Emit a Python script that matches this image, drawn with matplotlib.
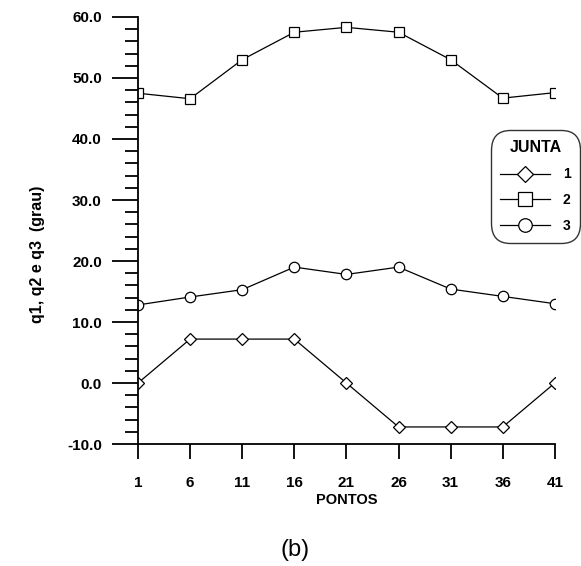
import matplotlib
matplotlib.use("Agg")
import matplotlib.pyplot as plt
from matplotlib.ticker import MultipleLocator, FixedLocator

plt.rcParams['font.family'] = ['Liberation Sans', 'DejaVu Sans']

pontos = [1, 6, 11, 16, 21, 26, 31, 36, 41]
q1 = [0.0, 7.2, 7.2, 7.2, 0.0, -7.2, -7.2, -7.2, 0.0]
q2 = [47.5, 46.6, 53.0, 57.5, 58.3, 57.5, 53.0, 46.7, 47.6]
q3 = [12.8, 14.1, 15.3, 19.0, 17.8, 19.0, 15.4, 14.2, 13.0]
xticks = [1, 6, 11, 16, 21, 26, 31, 36, 41]
yticks = [-10, 0, 10, 20, 30, 40, 50, 60]

fig = plt.figure(figsize=(5.81, 5.66), dpi=100)
ax = fig.add_axes([0.2375, 0.2155, 0.7175, 0.7545])

style = dict(color='black', lw=0.9, markerfacecolor='white',
             markeredgecolor='black', markeredgewidth=0.9)
h1, = ax.plot(pontos, q1, marker='D', ms=6.5, label='1', **style)
h2, = ax.plot(pontos, q2, marker='s', ms=7.5, label='2', **style)
h3, = ax.plot(pontos, q3, marker='o', ms=7.5, label='3', **style)

ax.set_xlim(1, 41)
ax.set_ylim(-10, 60)
ax.xaxis.set_major_locator(FixedLocator(xticks))
ax.yaxis.set_major_locator(FixedLocator(yticks))
ax.yaxis.set_minor_locator(MultipleLocator(2))
ax.set_yticklabels([f"{v:.1f}" for v in yticks])

for s in ['top', 'right']:
    ax.spines[s].set_visible(False)
for s in ['left', 'bottom']:
    ax.spines[s].set_linewidth(1.3)

ax.tick_params(axis='y', which='major', direction='out', length=19, width=1.3,
               labelsize=11, pad=7)
ax.tick_params(axis='y', which='minor', direction='out', length=9.5, width=1.3)
ax.tick_params(axis='x', which='major', direction='out', length=11, width=1.3,
               labelsize=11, pad=12)
for lab in ax.get_xticklabels() + ax.get_yticklabels():
    lab.set_fontweight('bold')

for sp in ax.spines.values():
    sp.set_clip_on(False)

ax.set_xlabel('PONTOS', fontsize=10.5, fontweight='bold', labelpad=2)
fig.text(0.065, 0.55, 'q1, q2 e q3  (grau)', rotation=90, ha='center',
         va='center', fontsize=11.5, fontweight='bold')

leg = fig.legend(handles=[h1, h2, h3], labels=['1', '2', '3'],
                 title='JUNTA', loc='upper right',
                 bbox_to_anchor=(0.999, 0.770), frameon=True, fancybox=True,
                 edgecolor='black', handlelength=3.6, handletextpad=0.9,
                 labelspacing=0.85, borderpad=0.7, borderaxespad=0,
                 fontsize=10, markerscale=1.3,
                 title_fontproperties={'weight': 'bold', 'size': 11.5})
leg.get_frame().set_linewidth(1.0)
leg.get_frame().set_boxstyle('round,pad=0,rounding_size=1.4')
leg._legend_box.sep = 9
for t in leg.get_texts():
    t.set_fontweight('bold')

fig.text(0.508, 0.028, '(b)', ha='center', va='center', fontsize=17)

fig.savefig('out.png', dpi=100, facecolor='white')
